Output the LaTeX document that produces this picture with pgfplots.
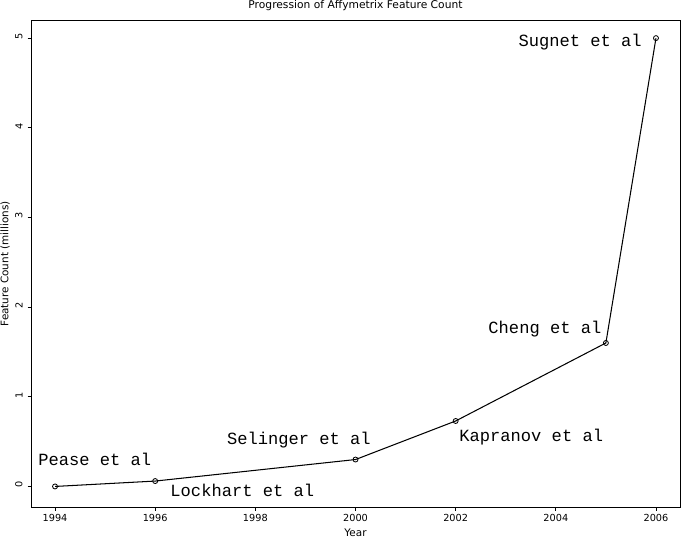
\documentclass[border=0pt]{standalone}
\usepackage{fontspec}
\setmainfont{DejaVu Sans}
\newfontfamily\monofont{Liberation Mono}
\usepackage{pgfplots}
\pgfplotsset{compat=1.18}

\begin{document}
\begin{tikzpicture}
\begin{axis}[
  scale only axis,
  width=467pt, height=350.6pt,
  xmin=1993.52, xmax=2006.48,
  ymin=-0.234, ymax=5.2,
  xtick={1994,1996,...,2006},
  ytick={0,1,2,3,4,5},
  xtick pos=bottom, ytick pos=left,
  /pgf/number format/1000 sep={},
  /pgf/number format/assume math mode=true,
  tick align=outside,
  major tick length=2.5pt,
  tick style={black, line width=0.6pt},
  axis line style={line width=0.7pt},
  tick label style={font=\fontsize{7}{8}\selectfont},
  xticklabel style={yshift=1.2pt},
  yticklabel style={rotate=90, anchor=south, xshift=1.2pt},
  label style={font=\fontsize{7.5}{9}\selectfont, inner sep=0pt},
  xlabel={Year},
  ylabel={Feature Count (millions)},
  xlabel style={at={(axis description cs:0.5,-0.0513)}, anchor=center},
  ylabel style={at={(axis description cs:-0.040,0.5)}, anchor=center},
  every axis title shift=0pt,
  title={Progression of Affymetrix Feature Count},
  title style={at={(axis description cs:0.5,1.0308)}, anchor=center, inner sep=0pt, font=\fontsize{7.7}{9}\selectfont},
  clip=false,
]
\addplot[black, line width=0.75pt, mark=o, mark size=1.8pt, mark options={line width=0.6pt, fill=white}]
  coordinates {(1994,0)(1996,0.06)(2000,0.3)(2002,0.73)(2005,1.6)(2006,5.0)};
\begin{scope}[every node/.style={anchor=base west, inner sep=0pt, font=\monofont\fontsize{12.3}{14}\selectfont}]
\node at (axis cs:1993.66,0.234) {Pease et al};
\node at (axis cs:1996.30,-0.112) {Lockhart et al};
\node at (axis cs:1997.43,0.469) {Selinger et al};
\node at (axis cs:2002.07,0.502) {Kapranov et al};
\node at (axis cs:2002.65,1.708) {Cheng et al};
\node at (axis cs:2003.25,4.91) {Sugnet et al};
\end{scope}
\end{axis}
\path (current axis.south west) ++(-22.3pt,-21.6pt) (current axis.north east) ++(3.6pt,14.4pt);
\end{tikzpicture}
\end{document}
